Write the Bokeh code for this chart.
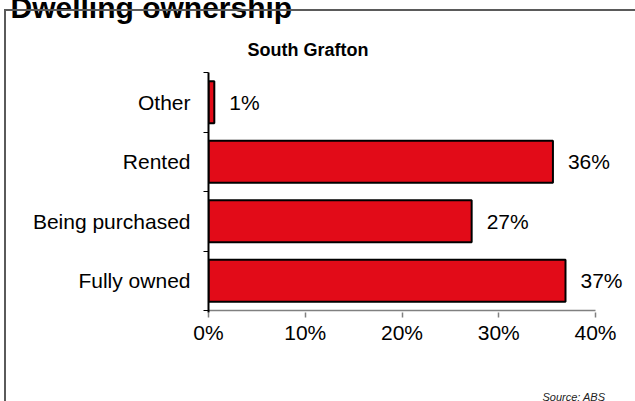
from bokeh.plotting import figure
from bokeh.models import (Range1d, FixedTicker, NumeralTickFormatter, LabelSet, Label,
                          ColumnDataSource, InlineStyleSheet)
from bokeh.core.properties import value
from bokeh.embed import file_html
from bokeh.resources import INLINE

chart_title = "Dwelling ownership"
subtitle = "South Grafton"
source_note = "Source:  ABS"
categories = ["Other", "Rented", "Being purchased", "Fully owned"]
shares = [0.006, 0.356, 0.272, 0.369]
x_ticks = [0.0, 0.1, 0.2, 0.3, 0.4]

FONT = "Liberation Sans"
SHIFT = 30  # canvas rows hidden above the page top (the title is cut off there)
n = len(categories)
ypos = [n - i - 0.5 for i in range(n)]
bounds = [float(k) for k in range(n + 1)]
value_text = [f"{v * 100:.0f}%" for v in shares]

src = ColumnDataSource(dict(y=ypos, v=shares, t=value_text, c=categories))

band_px = 59.5
x_px = 967.5  # pixels per unit share
p = figure(width=635, height=401 + SHIFT, frame_width=427, frame_height=240,
           min_border_left=208, min_border_right=0, min_border_top=72 + SHIFT,
           min_border_bottom=401 - 72 - 240,
           x_range=Range1d(0, 427 / x_px), y_range=Range1d(-2 / band_px, n),
           output_backend="svg", toolbar_location=None)
p.margin = (-SHIFT, 0, 0, 0)
p.stylesheets = [InlineStyleSheet(css=(
    ":host{position:relative;}"
    f":host::after{{content:'';position:absolute;left:4px;top:{9 + SHIFT}px;right:0;bottom:0;"
    "border-top:2px solid #5a5a5a;border-left:2px solid #5a5a5a;pointer-events:none;}"))]
p.outline_line_color = None
p.background_fill_color = "white"
p.border_fill_color = "white"
p.xgrid.visible = False
p.ygrid.visible = False

# x baseline (0% .. 40%)
p.segment(x0=x_ticks[0], y0=0, x1=x_ticks[-1], y1=0, line_color="#808080", line_width=1.5)

p.hbar(y="y", left=0, right="v", height=0.71, source=src,
       fill_color="#E20B18", line_color="black", line_width=2)

p.add_layout(LabelSet(x="v", y="y", text="t", source=src, x_offset=15,
                      text_align="left", text_baseline="middle",
                      text_font=value(FONT), text_font_size="21px", text_color="black"))

# x axis
xa = p.xaxis[0]
xa.ticker = FixedTicker(ticks=x_ticks, minor_ticks=[])
xa.formatter = NumeralTickFormatter(format="0%")
xa.axis_line_color = None
xa.major_tick_line_color = "#808080"
xa.major_tick_line_width = 1.5
xa.major_tick_out = 5
xa.major_tick_in = 0
xa.minor_tick_line_color = None
xa.major_label_text_font = FONT
xa.major_label_text_font_size = "21px"
xa.major_label_text_color = "black"
xa.major_label_standoff = 3

# y axis: labels at category centres, ticks at category boundaries
ya = p.yaxis[0]
ya.ticker = FixedTicker(ticks=ypos, minor_ticks=bounds)
ya.major_label_overrides = {y: c for y, c in zip(ypos, categories)}
ya.axis_line_color = "black"
ya.axis_line_width = 2
ya.major_tick_line_color = None
ya.major_tick_out = 0
ya.major_tick_in = 0
ya.minor_tick_line_color = "black"
ya.minor_tick_line_width = 1
ya.minor_tick_out = 5
ya.minor_tick_in = 0
ya.major_label_text_font = FONT
ya.major_label_text_font_size = "21px"
ya.major_label_text_color = "black"
ya.major_label_standoff = 13

# texts outside the plotting frame (side panels are not clipped)
p.add_layout(Label(x=10, y=7 + SHIFT, x_units="canvas", y_units="canvas", text=chart_title,
                   text_font=FONT, text_font_style="bold", text_font_size="30px",
                   text_baseline="alphabetic", text_align="left", text_color="black"), "above")
p.add_layout(Label(x=247, y=49 + SHIFT, x_units="canvas", y_units="canvas", text=subtitle,
                   text_font=FONT, text_font_style="bold", text_font_size="18px",
                   text_baseline="alphabetic", text_align="left", text_color="black"), "above")
p.add_layout(Label(x=608, y=396 + SHIFT, x_units="canvas", y_units="canvas", text=source_note,
                   text_font=FONT, text_font_style="italic", text_font_size="11px",
                   text_baseline="alphabetic", text_align="right", text_color="#222222"), "below")

open("out.html", "w").write(file_html(p, INLINE))
